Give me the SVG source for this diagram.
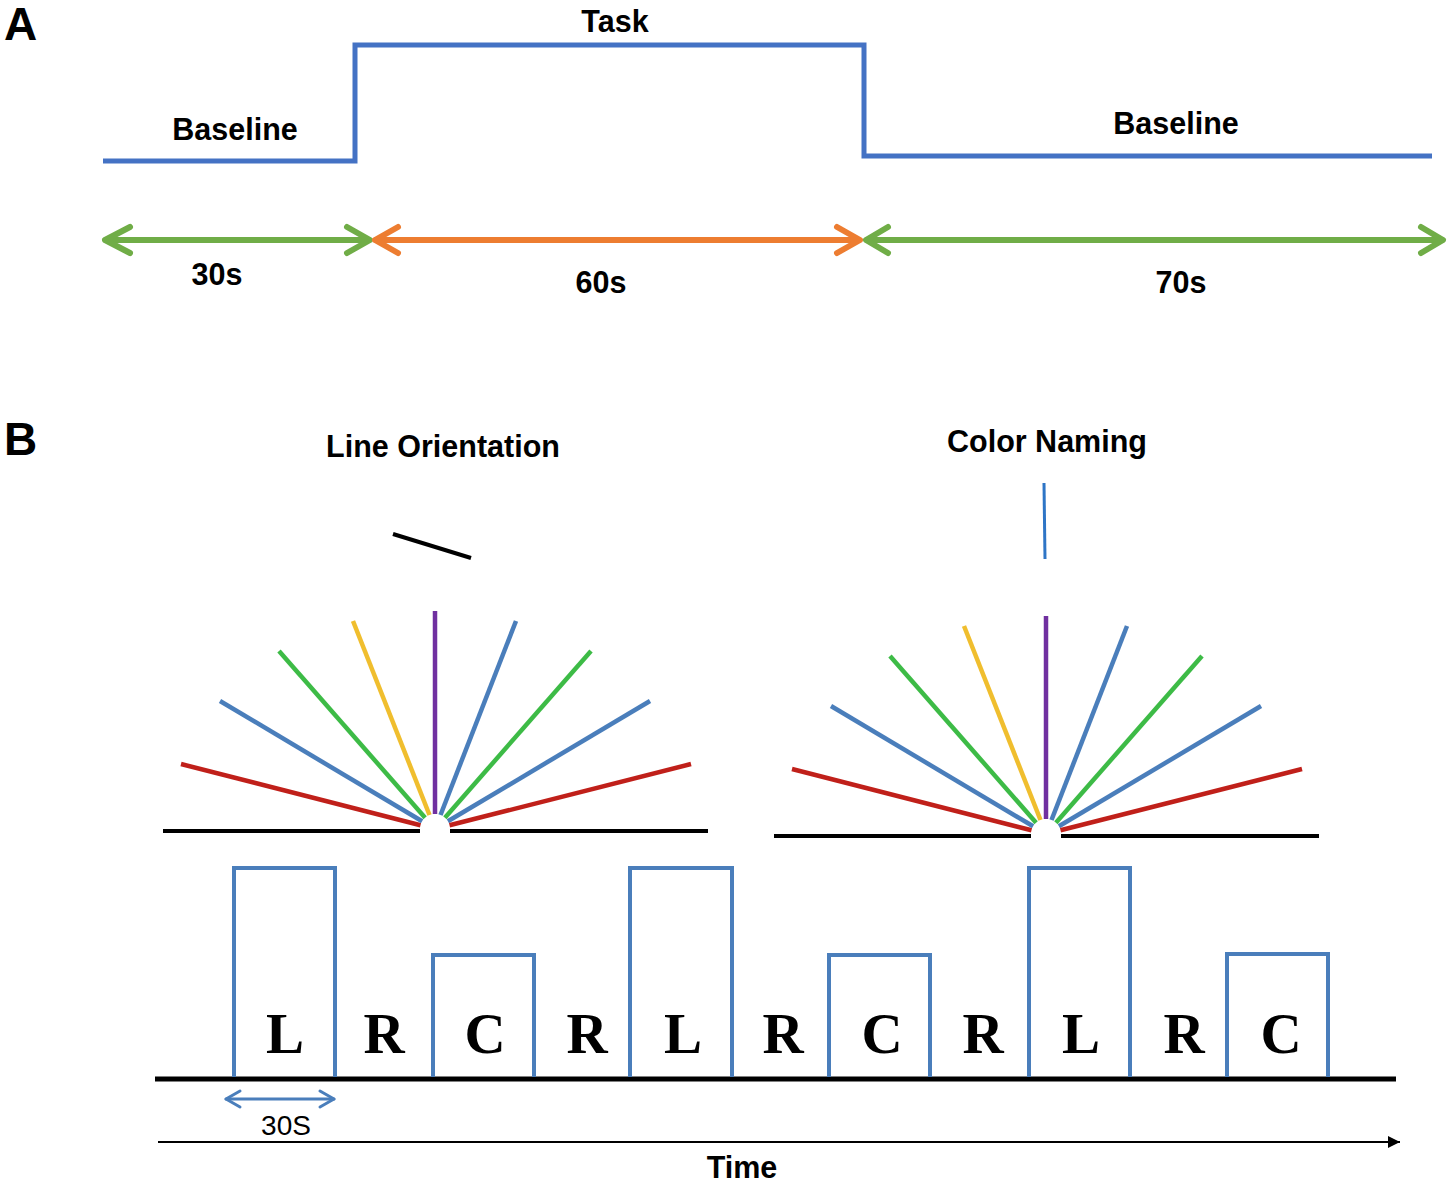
<svg xmlns="http://www.w3.org/2000/svg" width="1450" height="1185" viewBox="0 0 1450 1185">
<style>
.lbl{font-family:"Liberation Sans",Arial,sans-serif;font-weight:bold;fill:#000;text-anchor:middle;font-size:30.5px}
.pl{font-family:"Liberation Sans",Arial,sans-serif;font-weight:bold;font-size:46px;fill:#000}
.let{font-family:"Liberation Serif","Times New Roman",serif;font-weight:bold;font-size:57px;fill:#000;text-anchor:middle}
.step{fill:none;stroke:#4472C4;stroke-width:5}
.ga{fill:none;stroke:#70AD47;stroke-width:6;stroke-linecap:round;stroke-linejoin:round}
.oa{fill:none;stroke:#ED7D31;stroke-width:6;stroke-linecap:round;stroke-linejoin:round}
.box{fill:none;stroke:#4A7EBB;stroke-width:4}
.ray{stroke-width:4.5;fill:none}
.r{stroke:#C0201A}.b{stroke:#4A7EBB}.g{stroke:#3DBB46}.y{stroke:#F0BE2E}.p{stroke:#7030A0}
.base{stroke:#000;stroke-width:4}
</style>
<defs>
<marker id="tri" markerWidth="12" markerHeight="12" refX="10" refY="5" orient="auto" markerUnits="userSpaceOnUse" viewBox="0 0 10 10">
<path d="M0,0 L10,5 L0,10 z" fill="#000"/>
</marker>
<g id="fan">
<line class="base" x1="163" y1="831" x2="420" y2="831"/>
<line class="base" x1="450" y1="831" x2="708" y2="831"/>
<line class="ray r" x1="181" y1="764" x2="420.5" y2="825.3"/>
<line class="ray b" x1="220" y1="701" x2="422.1" y2="821.3"/>
<line class="ray g" x1="279" y1="651" x2="425.1" y2="817.7"/>
<line class="ray y" x1="353" y1="621" x2="429.5" y2="815"/>
<line class="ray p" x1="435" y1="611" x2="435" y2="814"/>
<line class="ray b" x1="516" y1="621" x2="440.5" y2="815"/>
<line class="ray g" x1="591" y1="651" x2="444.9" y2="817.7"/>
<line class="ray b" x1="650" y1="701" x2="447.9" y2="821.3"/>
<line class="ray r" x1="691" y1="764" x2="449.5" y2="825.3"/>
</g>
</defs>

<g id="panelA">
<text class="pl" x="4" y="40">A</text>
<polyline id="stepLine" class="step" points="103,161 355,161 355,45 864,45 864,156 1432,156"/>
<text class="lbl" x="235" y="140">Baseline</text>
<text class="lbl" x="615" y="32">Task</text>
<text class="lbl" x="1176" y="134">Baseline</text>
<g id="connectors">
<g id="arrow30">
<line class="ga" x1="106" y1="240" x2="368" y2="240"/>
<polyline class="ga" points="130,227 105,240 130,253"/>
<polyline class="ga" points="347,227 370,240 347,253"/>
</g>
<g id="arrow60">
<line class="oa" x1="376" y1="240" x2="858" y2="240"/>
<polyline class="oa" points="398,227 375,240 398,253"/>
<polyline class="oa" points="837,227 860,240 837,253"/>
</g>
<g id="arrow70">
<line class="ga" x1="867" y1="240" x2="1442" y2="240"/>
<polyline class="ga" points="888,227 866,240 888,253"/>
<polyline class="ga" points="1421,227 1443,240 1421,253"/>
</g>
</g>
<text class="lbl" x="217" y="285">30s</text>
<text class="lbl" x="601" y="293">60s</text>
<text class="lbl" x="1181" y="293">70s</text>
</g>

<g id="panelB">
<text class="pl" x="4" y="455">B</text>
<text class="lbl" x="443" y="457">Line Orientation</text>
<text class="lbl" x="1047" y="452">Color Naming</text>
<line id="stimLine" x1="393" y1="534" x2="471" y2="558" stroke="#000" stroke-width="4"/>
<line id="stimColor" x1="1044" y1="483" x2="1045" y2="559" stroke="#2E75C6" stroke-width="3"/>
<g id="fanLine"><use href="#fan"/></g>
<g id="fanColor"><use href="#fan" transform="translate(611,5)"/></g>

<g id="timeline">
<line x1="155" y1="1079" x2="1396" y2="1079" stroke="#000" stroke-width="5"/>
<polyline class="box" points="234,1077 234,868 335,868 335,1077"/>
<polyline class="box" points="433,1077 433,955 534,955 534,1077"/>
<polyline class="box" points="630,1077 630,868 732,868 732,1077"/>
<polyline class="box" points="829,1077 829,955 930,955 930,1077"/>
<polyline class="box" points="1029,1077 1029,868 1130,868 1130,1077"/>
<polyline class="box" points="1227,1077 1227,954 1328,954 1328,1077"/>
<text class="let" x="285" y="1053">L</text>
<text class="let" x="384" y="1053">R</text>
<text class="let" x="485" y="1053">C</text>
<text class="let" x="587" y="1053">R</text>
<text class="let" x="683" y="1053">L</text>
<text class="let" x="783" y="1053">R</text>
<text class="let" x="882" y="1053">C</text>
<text class="let" x="983" y="1053">R</text>
<text class="let" x="1081" y="1053">L</text>
<text class="let" x="1184" y="1053">R</text>
<text class="let" x="1281" y="1053">C</text>
</g>
<g id="durArrow" fill="none" stroke="#4A7EBB" stroke-width="3" stroke-linecap="round" stroke-linejoin="round">
<line x1="226" y1="1099" x2="334" y2="1099"/>
<polyline points="240,1091 226,1099 240,1107"/>
<polyline points="320,1091 334,1099 320,1107"/>
</g>
<text x="286" y="1135" font-family="Liberation Sans,Arial,sans-serif" font-size="28" text-anchor="middle" fill="#000">30S</text>
<line id="timeArrow" x1="158" y1="1142" x2="1400" y2="1142" stroke="#000" stroke-width="2" marker-end="url(#tri)"/>
<text class="lbl" x="742" y="1178">Time</text>
</g>
</svg>
